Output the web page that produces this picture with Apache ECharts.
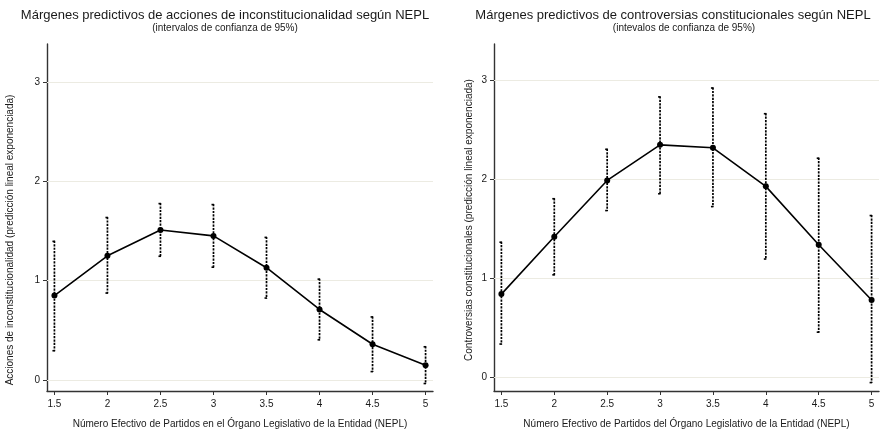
<!DOCTYPE html>
<html>
<head>
<meta charset="utf-8">
<script src="https://cdn.jsdelivr.net/npm/echarts@6/dist/echarts.min.js"></script>
<style>
html,body{margin:0;padding:0;background:#fff;}
#chart{width:884px;height:434px;}
</style>
</head>
<body>
<div id="chart"></div>
<script>
const nepl = [1.5, 2, 2.5, 3, 3.5, 4, 4.5, 5];
const xTicks = [1.5, 2, 2.5, 3, 3.5, 4, 4.5, 5];
const yTicks = [0, 1, 2, 3];

const accionesMargin = [0.85, 1.25, 1.51, 1.45, 1.13, 0.71, 0.36, 0.15];
const accionesLower  = [0.29, 0.87, 1.24, 1.13, 0.82, 0.40, 0.08, -0.04];
const accionesUpper  = [1.40, 1.64, 1.78, 1.77, 1.44, 1.02, 0.64, 0.34];

const controvMargin = [0.84, 1.42, 1.99, 2.35, 2.32, 1.93, 1.34, 0.78];
const controvLower  = [0.33, 1.03, 1.68, 1.85, 1.72, 1.19, 0.45, -0.06];
const controvUpper  = [1.37, 1.81, 2.31, 2.84, 2.93, 2.67, 2.22, 1.64];

const titleLeft = 'Márgenes predictivos de acciones de inconstitucionalidad según NEPL';
const subLeft = '(intervalos de confianza de 95%)';
const titleRight = 'Márgenes predictivos de controversias constitucionales según NEPL';
const subRight = '(intevalos de confianza de 95%)';
const xNameLeft = 'Número Efectivo de Partidos en el Órgano Legislativo de la Entidad (NEPL)';
const xNameRight = 'Número Efectivo de Partidos del Órgano Legislativo de la Entidad (NEPL)';
const yNameLeft = 'Acciones de inconstitucionalidad (predicción lineal exponenciada)';
const yNameRight = 'Controversias constitucionales (predicción lineal exponenciada)';

const FONT = '"Liberation Sans", Arial, sans-serif';
const TXT = '#1a1a1a';
const AXC = '#333333';
const GRIDC = '#ecebe2';

function errData(lo, hi) { return nepl.map((x, i) => [x, lo[i], hi[i]]); }
function lineData(m) { return nepl.map((x, i) => [x, m[i]]); }

function renderErr(params, api) {
  const x = api.value(0), lo = api.value(1), hi = api.value(2);
  const t = api.coord([x, hi]);
  const b = api.coord([x, lo]);
  const st = { stroke: '#000', lineWidth: 1.7, lineDash: [2.2, 1.2] };
  const cs = { stroke: '#000', lineWidth: 1.6 };
  return {
    type: 'group',
    children: [
      { type: 'line', shape: { x1: t[0], y1: t[1], x2: b[0], y2: b[1] }, style: st },
      { type: 'line', shape: { x1: t[0] - 2, y1: t[1] + 0.5, x2: t[0] + 0.5, y2: t[1] + 0.5 }, style: cs },
      { type: 'line', shape: { x1: b[0] - 2, y1: b[1] - 0.5, x2: b[0] + 0.5, y2: b[1] - 0.5 }, style: cs }
    ]
  };
}

function xAxisCfg(gi, name) {
  return {
    type: 'value', gridIndex: gi, min: 1.43, max: 5.07,
    name: name, nameLocation: 'middle', nameGap: 28,
    nameTextStyle: { fontFamily: FONT, fontSize: 10, color: TXT },
    axisLine: { show: true, onZero: false, lineStyle: { color: AXC, width: 1.4 } },
    axisTick: { show: true, length: 4, customValues: xTicks, lineStyle: { color: AXC, width: 1 } },
    axisLabel: { customValues: xTicks, fontFamily: FONT, fontSize: 10, color: TXT, margin: 8 },
    splitLine: { show: false }
  };
}
function yAxisCfg(gi, min, max) {
  return {
    type: 'value', gridIndex: gi, min: min, max: max,
    axisLine: { show: true, onZero: false, lineStyle: { color: AXC, width: 1.4 } },
    axisTick: { show: true, length: 4, customValues: yTicks, lineStyle: { color: AXC, width: 1 } },
    axisLabel: { customValues: yTicks, fontFamily: FONT, fontSize: 10, color: TXT, margin: 7 },
    splitLine: { show: false }
  };
}
function gridLines(xi, yi) {
  return {
    type: 'line', xAxisIndex: xi, yAxisIndex: yi, data: [], z: 1, silent: true,
    markLine: {
      z: 1, silent: true, symbol: 'none', label: { show: false },
      lineStyle: { color: GRIDC, type: 'solid', width: 1 },
      data: yTicks.map(v => ({ yAxis: v }))
    }
  };
}
function meanLine(xi, yi, m) {
  return {
    type: 'line', xAxisIndex: xi, yAxisIndex: yi, data: lineData(m), z: 10,
    symbol: 'circle', symbolSize: 6, itemStyle: { color: '#000' },
    lineStyle: { color: '#000', width: 1.6 }, animation: false
  };
}
function errSeries(xi, yi, lo, hi) {
  return {
    type: 'custom', xAxisIndex: xi, yAxisIndex: yi, data: errData(lo, hi), z: 8,
    encode: { x: 0, y: [1, 2] }, renderItem: renderErr, animation: false
  };
}

const chart = echarts.init(document.getElementById('chart'), null, { renderer: 'canvas' });
chart.setOption({
  backgroundColor: '#ffffff',
  animation: false,
  title: [
    { text: titleLeft, left: 220, top: 4, textAlign: 'center', textStyle: { fontFamily: FONT, fontSize: 13, fontWeight: 'normal', color: TXT } },
    { text: subLeft, left: 220, top: 18, textAlign: 'center', textStyle: { fontFamily: FONT, fontSize: 10, fontWeight: 'normal', color: TXT } },
    { text: titleRight, left: 668, top: 4, textAlign: 'center', textStyle: { fontFamily: FONT, fontSize: 13, fontWeight: 'normal', color: TXT } },
    { text: subRight, left: 679, top: 18, textAlign: 'center', textStyle: { fontFamily: FONT, fontSize: 10, fontWeight: 'normal', color: TXT } }
  ],
  graphic: [
    { type: 'text', x: 10, y: 240, rotation: Math.PI / 2, style: { text: yNameLeft, fontFamily: FONT, fontSize: 10, fill: TXT, align: 'center', verticalAlign: 'middle' } },
    { type: 'text', x: 469, y: 220, rotation: Math.PI / 2, style: { text: yNameRight, fontFamily: FONT, fontSize: 10, fill: TXT, align: 'center', verticalAlign: 'middle' } }
  ],
  grid: [
    { left: 47, right: 451, top: 44, bottom: 39 },
    { left: 494, right: 5, top: 44, bottom: 39 }
  ],
  xAxis: [xAxisCfg(0, xNameLeft), xAxisCfg(1, xNameRight)],
  yAxis: [yAxisCfg(0, -0.11, 3.38), yAxisCfg(1, -0.14, 3.37)],
  series: [
    gridLines(0, 0),
    errSeries(0, 0, accionesLower, accionesUpper),
    meanLine(0, 0, accionesMargin),
    gridLines(1, 1),
    errSeries(1, 1, controvLower, controvUpper),
    meanLine(1, 1, controvMargin)
  ]
});
</script>
</body>
</html>
